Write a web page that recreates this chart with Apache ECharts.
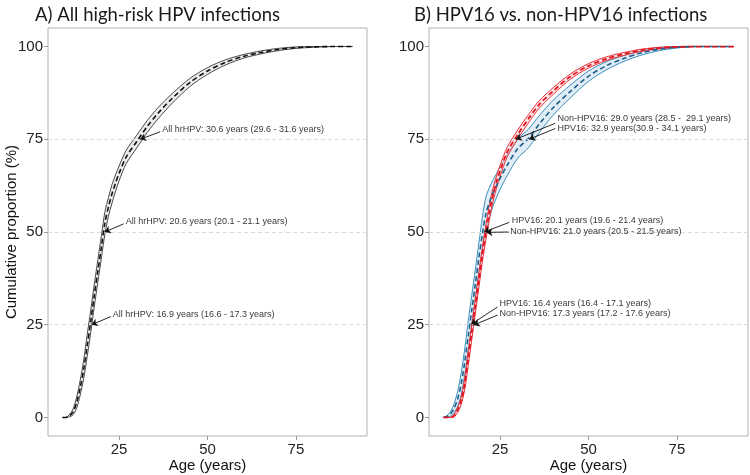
<!DOCTYPE html>
<html>
<head>
<meta charset="utf-8">
<script src="https://cdn.jsdelivr.net/npm/echarts@6/dist/echarts.min.js"></script>
<style>
  html, body { margin: 0; padding: 0; background: #fff; }
  #chart { width: 750px; height: 475px; }
</style>
</head>
<body>
<div id="chart"></div>
<script>
const ages = [9, 10, 11, 12, 13, 14, 15, 16, 17, 18, 19, 20, 21, 22, 23, 24, 25, 27, 30, 33, 36, 40, 45, 50, 55, 60, 65, 70, 75, 80, 85, 91];

// A) all hrHPV
const hrHPV     = [0, 0, 0.5, 1.5, 4, 8, 13, 19.5, 26, 33, 39.5, 46, 52.5, 56.8, 60.3, 63.2, 65.8, 70.2, 74.4, 78.5, 82, 86, 90.3, 93.4, 95.7, 97.3, 98.4, 99.2, 99.7, 99.9, 100, 100];
const hrHPVLow  = [0, 0, 0.2, 0.7, 2.5, 6, 10.5, 16.5, 23, 30, 36.5, 43, 49.5, 54.3, 57.8, 61, 63.8, 68.4, 72.7, 76.9, 80.5, 84.7, 89.2, 92.5, 95, 96.8, 98, 98.9, 99.5, 99.8, 100, 100];
const hrHPVHigh = [0, 0, 0.8, 2.3, 5.5, 10, 15.5, 22.5, 29, 36, 42.5, 49, 55.5, 59.3, 62.8, 65.4, 67.8, 72, 76.1, 80.1, 83.5, 87.3, 91.4, 94.3, 96.4, 97.8, 98.8, 99.5, 99.9, 100, 100, 100];

// B) HPV16 vs non-HPV16
const hpv16     = [0, 0.3, 1, 2.5, 5, 9, 15, 22, 29, 36, 43, 49.5, 55, 58, 60.5, 62.5, 64.5, 68, 72.5, 75.2, 79, 83.5, 88, 92, 94.8, 96.8, 98.3, 99.3, 99.8, 100, 100, 100];
const hpv16Low  = [0, 0.1, 0.4, 1.3, 3, 6, 11.5, 18, 25, 32, 39, 45, 50.5, 54, 57, 59.3, 61.5, 65.2, 69.9, 72.7, 76.7, 81.5, 86.3, 90.6, 93.7, 96, 97.7, 98.9, 99.6, 100, 100, 100];
const hpv16High = [0, 0.5, 1.6, 3.7, 7, 12, 18.5, 26, 33, 40, 47, 54, 59.5, 62, 64, 65.7, 67.5, 70.8, 75.1, 77.7, 81.3, 85.5, 89.7, 93.4, 95.9, 97.6, 98.9, 99.7, 100, 100, 100, 100];
const nonHpv16     = [0, 0, 0, 0.5, 2, 4.5, 9, 16, 23, 30, 37, 44, 50, 55.5, 60, 63.5, 66.5, 71.5, 76.3, 80.5, 84.3, 88, 92, 94.8, 96.7, 98, 99, 99.6, 99.9, 100, 100, 100];
const nonHpv16Low  = [0, 0, 0, 0.2, 1.3, 3.5, 7.5, 14, 21, 28, 35, 42, 48, 53.5, 58.2, 61.9, 65, 70.2, 75.1, 79.4, 83.3, 87.1, 91.3, 94.2, 96.2, 97.6, 98.7, 99.4, 99.8, 100, 100, 100];
const nonHpv16High = [0, 0, 0, 0.8, 2.7, 5.5, 10.5, 18, 25, 32, 39, 46, 52, 57.5, 61.8, 65.1, 68, 72.8, 77.5, 81.6, 85.3, 88.9, 92.7, 95.4, 97.2, 98.4, 99.3, 99.8, 100, 100, 100, 100];

const xTicks = [25, 50, 75];
const yTicks = [0, 25, 50, 75, 100];
const gridLines = [25, 50, 75];

// annotations: text, text position [age, %], arrow start, arrow tip
const annTextA = [
  'All hrHPV: 30.6 years (29.6 - 31.6 years)',
  'All hrHPV: 20.6 years (20.1 - 21.1 years)',
  'All hrHPV: 16.9 years (16.6 - 17.3 years)'
];
const annPosA  = [[37.2, 77.6], [26.9, 52.7], [23.2, 27.7]];
const annFromA = [[36.6, 77.0], [26.3, 52.2], [22.7, 27.2]];
const annToA   = [[30.9, 75], [20.9, 50], [17.2, 25]];

const annTextB = [
  'Non-HPV16: 29.0 years (28.5 -  29.1 years)',
  'HPV16: 32.9 years(30.9 - 34.1 years)',
  'HPV16: 20.1 years (19.6 - 21.4 years)',
  'Non-HPV16: 21.0 years (20.5 - 21.5 years)',
  'HPV16: 16.4 years (16.4 - 17.1 years)',
  'Non-HPV16: 17.3 years (17.2 - 17.6 years)'
];
const annPosB  = [[41.2, 80.6], [41.2, 77.8], [28.3, 53.1], [27.9, 50.0], [24.8, 30.6], [24.8, 27.9]];
const annFromB = [[40.6, 79.3], [40.6, 77.9], [27.6, 52.6], [27.4, 50.0], [24.3, 29.8], [24.3, 27.6]];
const annToB   = [[29.4, 75], [33.2, 75], [20.5, 50], [21.1, 49.9], [16.8, 25.1], [17.5, 24.9]];

const pts = (ys) => ages.map((a, i) => [a, ys[i]]);
const FONT = 'Liberation Sans, Arial';

// CI band: filled polygon between lower and upper, with both edges outlined
function band(idx, lo, hi, edge, fill) {
  return {
    type: 'custom', xAxisIndex: idx, yAxisIndex: idx, z: 2,
    silent: true, clip: true,
    data: [[ages[0], 0]],
    renderItem: function (params, api) {
      const up = ages.map((a, i) => api.coord([a, hi[i]]));
      const dn = ages.map((a, i) => api.coord([a, lo[i]]));
      return {
        type: 'group',
        children: [
          { type: 'polygon', shape: { points: up.concat(dn.slice().reverse()), smooth: 0.3 },
            style: { fill: fill, stroke: null } },
          { type: 'polyline', shape: { points: up, smooth: 0.3 },
            style: { fill: null, stroke: edge, lineWidth: 1 } },
          { type: 'polyline', shape: { points: dn, smooth: 0.3 },
            style: { fill: null, stroke: edge, lineWidth: 1 } }
        ]
      };
    }
  };
}

function centre(idx, ys, color, w) {
  return {
    type: 'line', xAxisIndex: idx, yAxisIndex: idx,
    data: pts(ys), smooth: 0.3, showSymbol: false, silent: true,
    lineStyle: { color: color, width: w, type: [5, 3] }, z: 3
  };
}

function hGrid(idx) {
  return {
    type: 'line', xAxisIndex: idx, yAxisIndex: idx, data: [], z: 1,
    markLine: {
      silent: true, symbol: 'none', animation: false,
      label: { show: false },
      lineStyle: { color: '#d9d9d9', type: [4, 3], width: 1 },
      data: gridLines.map(v => ({ yAxis: v }))
    }
  };
}

function notes(idx, texts, pos, from, to, fs) {
  return {
    type: 'scatter', xAxisIndex: idx, yAxisIndex: idx, symbolSize: 0, z: 5, silent: true,
    data: pos.map((p, i) => [p[0], p[1], texts[i]]),
    label: {
      show: true, position: 'right', distance: 0,
      formatter: p => p.data[2],
      fontFamily: FONT, fontSize: fs, color: '#000'
    },
    markLine: {
      silent: true, animation: false,
      symbol: ['none', 'arrow'], symbolSize: 6,
      label: { show: false },
      lineStyle: { color: '#111', type: 'solid', width: 0.9 },
      data: from.map((f, i) => [{ coord: f }, { coord: to[i] }])
    }
  };
}

function xAx(idx) {
  return {
    type: 'value', gridIndex: idx, min: 4.9, max: 95.1,
    name: 'Age (years)', nameLocation: 'middle', nameGap: 22, nameMoveOverlap: false,
    nameTextStyle: { fontFamily: FONT, fontSize: 15, color: '#111' },
    axisLine: { show: false, onZero: false },
    axisTick: { show: true, customValues: xTicks, length: 4, lineStyle: { color: '#999' } },
    axisLabel: { customValues: xTicks, fontFamily: FONT, fontSize: 15, color: '#222', margin: 6 },
    splitLine: { show: false }
  };
}

function yAx(idx, name) {
  return {
    type: 'value', gridIndex: idx, min: -5, max: 105,
    name: name, nameLocation: 'middle', nameGap: 29, nameMoveOverlap: false,
    nameTextStyle: { fontFamily: FONT, fontSize: 15, color: '#111' },
    axisLine: { show: false, onZero: false },
    axisTick: { show: true, customValues: yTicks, length: 4, lineStyle: { color: '#999' } },
    axisLabel: { customValues: yTicks, fontFamily: FONT, fontSize: 15, color: '#222', margin: 5 },
    splitLine: { show: false }
  };
}

const chart = echarts.init(document.getElementById('chart'));
chart.setOption({
  animation: false,
  backgroundColor: '#fff',
  title: [
    { text: 'A) All high-risk HPV infections', left: 30, top: 1,
      textStyle: { fontFamily: 'Lato, Noto Sans', fontWeight: 'normal', fontSize: 18.5, color: '#1a1a1a' } },
    { text: 'B) HPV16 vs. non-HPV16 infections', left: 409, top: 1,
      textStyle: { fontFamily: 'Lato, Noto Sans', fontWeight: 'normal', fontSize: 18.5, color: '#1a1a1a' } }
  ],
  grid: [
    { left: 48, right: 383, top: 28, bottom: 39, outerBoundsMode: 'none',
      show: true, borderColor: '#b0b0b0', borderWidth: 1, backgroundColor: '#fff' },
    { left: 429, right: 2, top: 28, bottom: 39, outerBoundsMode: 'none',
      show: true, borderColor: '#b0b0b0', borderWidth: 1, backgroundColor: '#fff' }
  ],
  xAxis: [xAx(0), xAx(1)],
  yAxis: [yAx(0, 'Cumulative proportion (%)'), yAx(1, '')],
  series: [
    hGrid(0),
    band(0, hrHPVLow, hrHPVHigh, '#4a4a4a', '#ececec'),
    centre(0, hrHPV, '#111', 1.6),
    notes(0, annTextA, annPosA, annFromA, annToA, 9),

    hGrid(1),
    band(1, hpv16Low, hpv16High, '#3a90bd', 'rgba(220,234,245,0.85)'),
    centre(1, hpv16, '#1f5f88', 1.6),
    band(1, nonHpv16Low, nonHpv16High, '#e8303a', 'rgba(250,214,216,0.55)'),
    centre(1, nonHpv16, '#e3151f', 1.8),
    notes(1, annTextB, annPosB, annFromB, annToB, 9)
  ]
});
</script>
</body>
</html>
